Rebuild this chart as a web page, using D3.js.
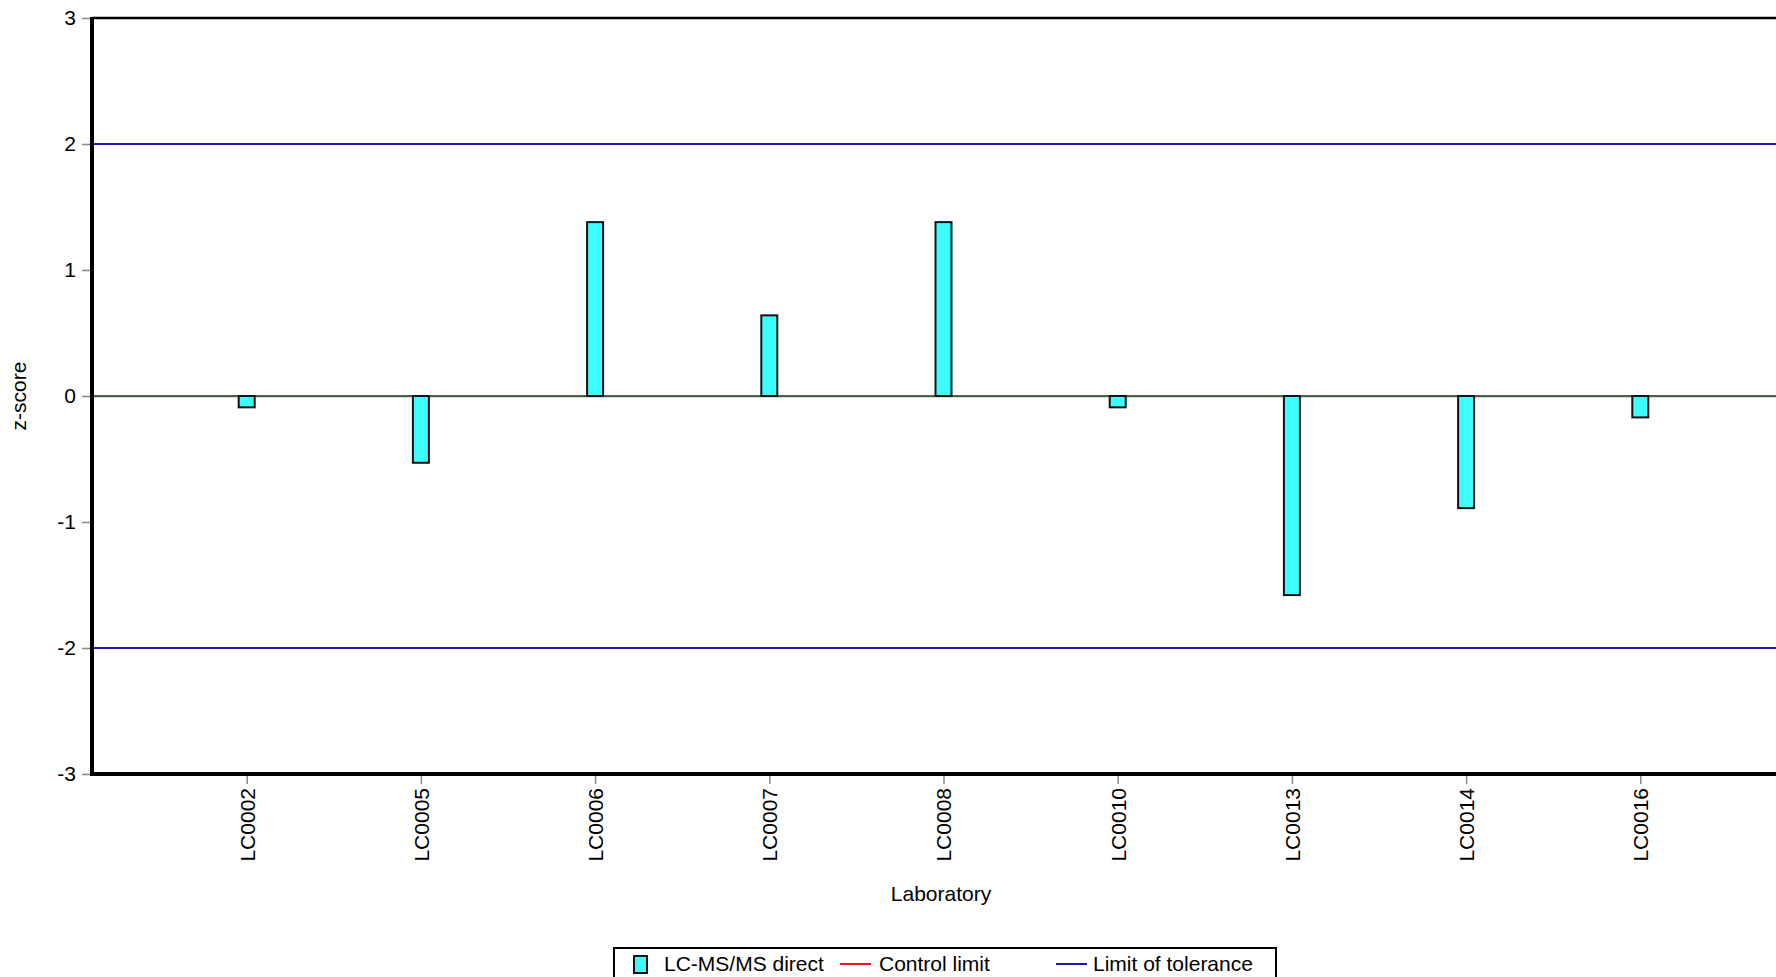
<!DOCTYPE html>
<html><head><meta charset="utf-8">
<script src="https://cdn.jsdelivr.net/npm/d3@7"></script>
<style>body{margin:0;background:#fff;overflow:hidden}svg{display:block;font-family:"Liberation Sans",Arial,sans-serif}</style>
</head><body>
<svg id="c" width="1776" height="977"></svg>
<script>
const labs = ["LC0002","LC0005","LC0006","LC0007","LC0008","LC0010","LC0013","LC0014","LC0016"];
const zscores = [-0.09,-0.53,1.38,0.64,1.38,-0.09,-1.58,-0.89,-0.17];
const yTicks = [-3,-2,-1,0,1,2,3];
const tolerance = [-2,2];
const legendItems = ["LC-MS/MS direct","Control limit","Limit of tolerance"];

const svg = d3.select("#c");
const L = 92, R = 1795, T = 18, B = 774;
const x = d3.scalePoint().domain(labs).range([L, R]).padding(0.888);
const y = d3.scaleLinear().domain([-3,3]).range([B, T]);

svg.selectAll("line.tol").data(tolerance).enter().append("line")
  .attr("x1", L).attr("x2", R).attr("y1", d=>y(d)).attr("y2", d=>y(d))
  .attr("stroke", "#1a1aa8").attr("stroke-width", 2);

svg.append("line").attr("x1", L).attr("x2", R).attr("y1", y(0)+1).attr("y2", y(0)+1)
  .attr("stroke", "#8fd08f").attr("stroke-width", 1);
svg.append("line").attr("x1", L).attr("x2", R).attr("y1", y(0)).attr("y2", y(0))
  .attr("stroke", "#1c2a1c").attr("stroke-width", 1.5);

const bw = 16;
svg.selectAll("rect.bar").data(labs).enter().append("rect")
  .attr("x", d=>x(d)-bw/2).attr("width", bw)
  .attr("y", (d,i)=>y(Math.max(0,zscores[i])))
  .attr("height", (d,i)=>Math.abs(y(zscores[i])-y(0)))
  .attr("fill", "#3ffcfc").attr("stroke", "#111").attr("stroke-width", 2);

const fmt = d => String(d);
const ya = svg.append("g").attr("transform", `translate(${L},0)`)
  .call(d3.axisLeft(y).tickValues(yTicks).tickSize(10).tickPadding(6).tickFormat(fmt));
ya.select(".domain").remove();
ya.selectAll(".tick line").attr("stroke", "#888").attr("stroke-width", 1.5);
ya.selectAll(".tick text").attr("font-size", 21).attr("fill", "#000").attr("font-family", "Liberation Sans, Arial, sans-serif");

const xa = svg.append("g").attr("transform", `translate(0,${B})`)
  .call(d3.axisBottom(x).tickSize(10).tickPadding(6));
xa.select(".domain").remove();
xa.selectAll(".tick line").attr("stroke", "#888").attr("stroke-width", 1.5);
xa.selectAll(".tick text").attr("font-size", 21).attr("fill", "#000")
  .attr("font-family", "Liberation Sans, Arial, sans-serif")
  .attr("transform", "rotate(-90)").attr("text-anchor", "end")
  .attr("x", -14).attr("y", 0).attr("dy", "0.35em");

svg.append("line").attr("x1", L).attr("x2", R).attr("y1", T).attr("y2", T).attr("stroke", "#000").attr("stroke-width", 2.5);
svg.append("line").attr("x1", L).attr("x2", L).attr("y1", T-1).attr("y2", B+2).attr("stroke", "#000").attr("stroke-width", 4);
svg.append("line").attr("x1", L-2).attr("x2", R).attr("y1", B).attr("y2", B).attr("stroke", "#000").attr("stroke-width", 4);

svg.append("text").attr("x", 941).attr("y", 901).attr("text-anchor", "middle").attr("font-size", 21).text("Laboratory");
svg.append("text").attr("transform", `translate(26,${y(0)}) rotate(-90)`).attr("text-anchor", "middle").attr("font-size", 21).text("z-score");

const lg = svg.append("g");
lg.append("rect").attr("x", 614).attr("y", 948).attr("width", 662).attr("height", 40)
  .attr("fill", "#fff").attr("stroke", "#000").attr("stroke-width", 2);
lg.append("rect").attr("x", 634).attr("y", 956).attr("width", 13).attr("height", 17)
  .attr("fill", "#3ffcfc").attr("stroke", "#111").attr("stroke-width", 2);
lg.append("text").attr("x", 664).attr("y", 971).attr("font-size", 21).text(legendItems[0]);
lg.append("line").attr("x1", 840).attr("x2", 871).attr("y1", 964).attr("y2", 964).attr("stroke", "#e8141c").attr("stroke-width", 2);
lg.append("text").attr("x", 879).attr("y", 971).attr("font-size", 21).text(legendItems[1]);
lg.append("line").attr("x1", 1056).attr("x2", 1087).attr("y1", 964).attr("y2", 964).attr("stroke", "#1a1aa8").attr("stroke-width", 2);
lg.append("text").attr("x", 1093).attr("y", 971).attr("font-size", 21).text(legendItems[2]);
</script>
</body></html>
